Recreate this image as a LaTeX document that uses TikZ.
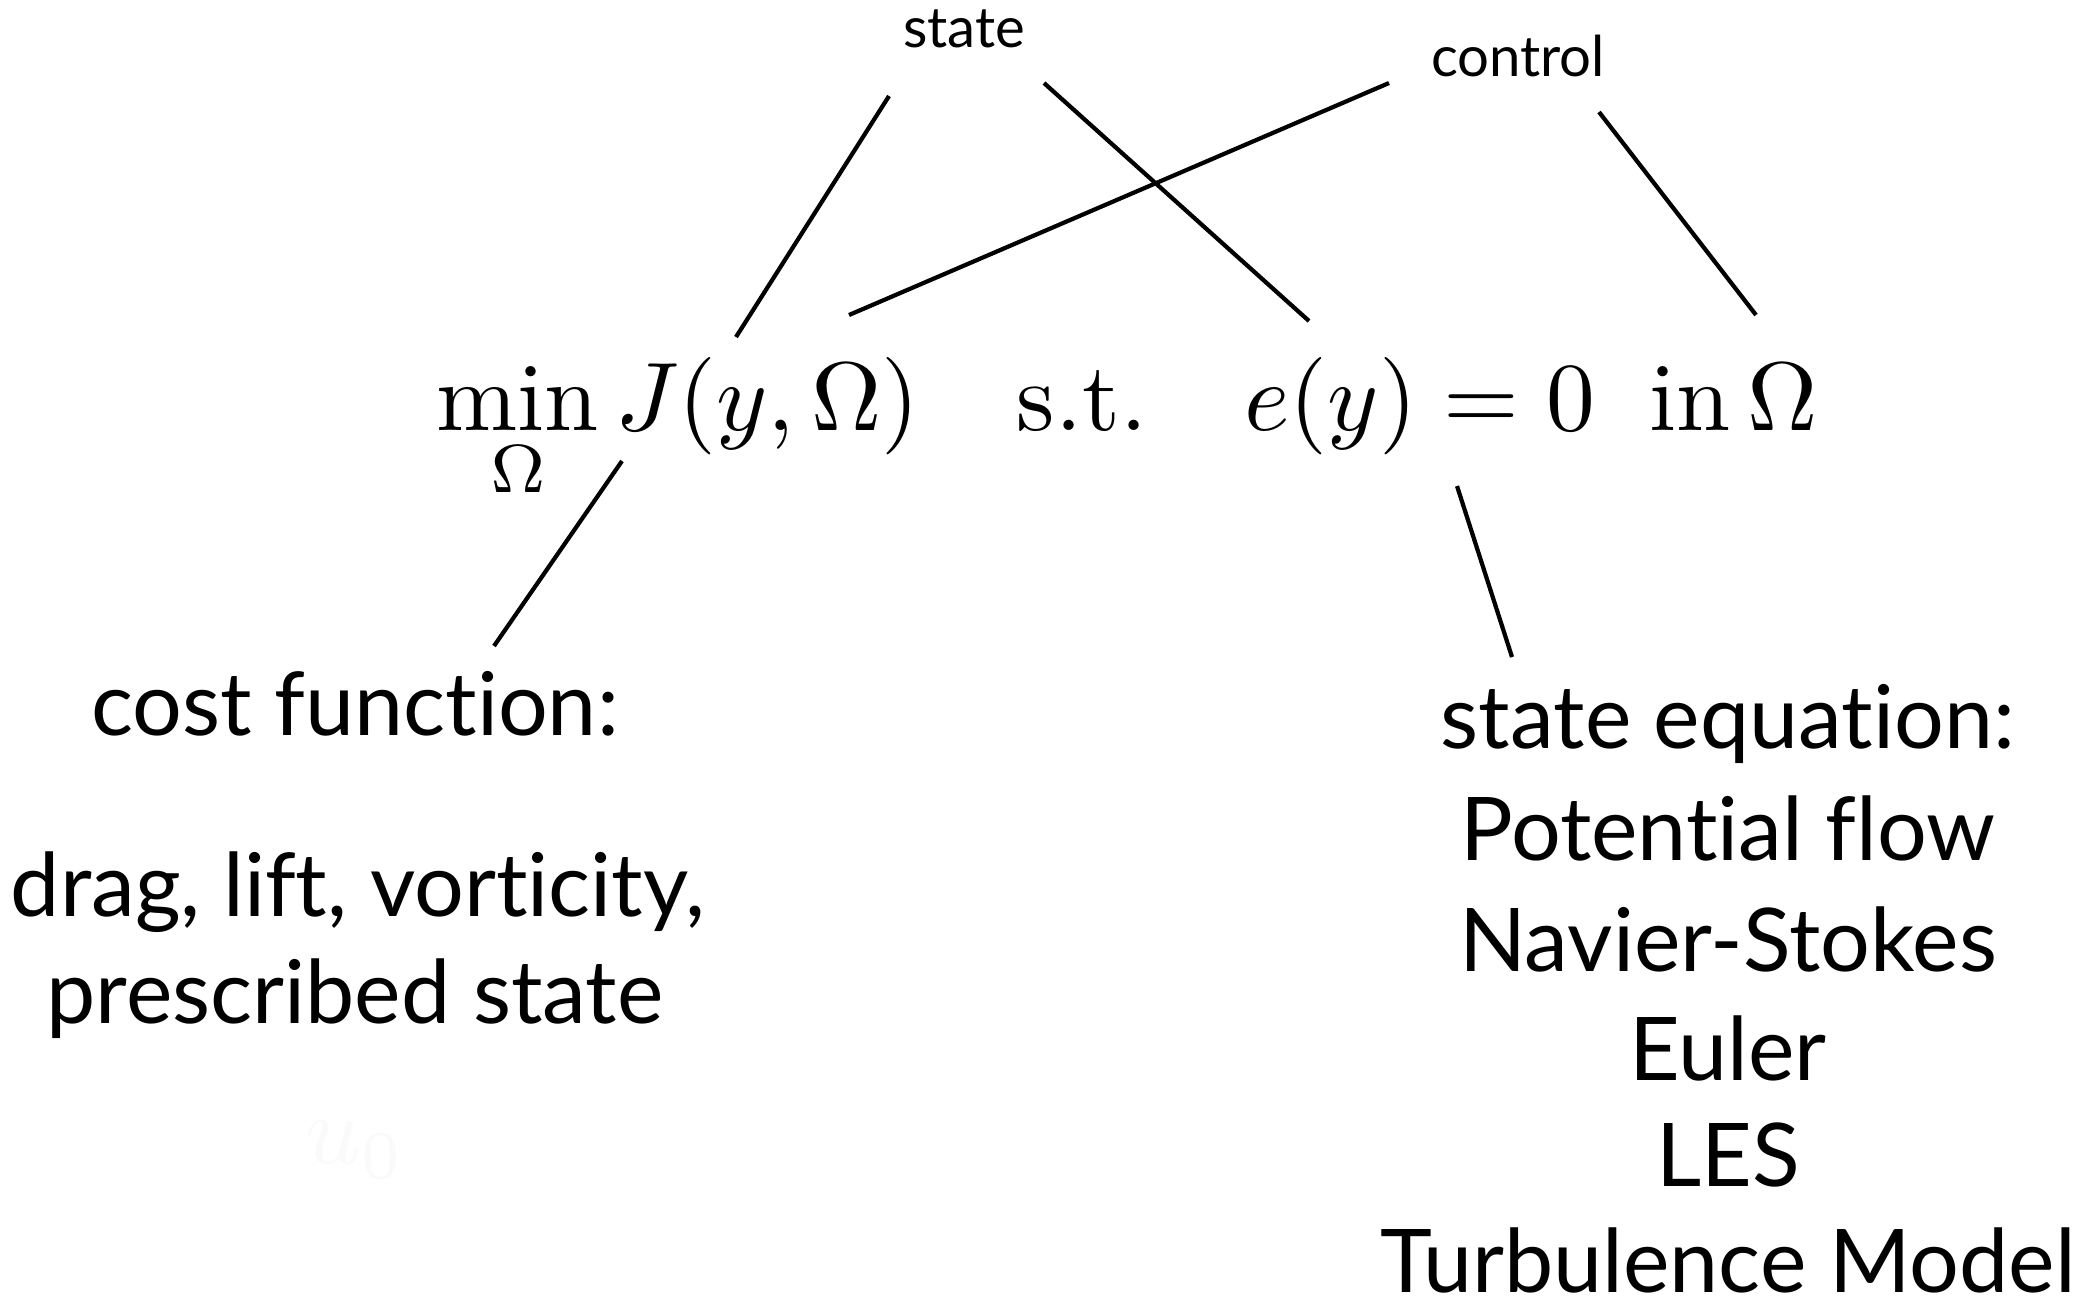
\documentclass[tikz,border=0pt]{standalone}
\usepackage{amsmath}
\usepackage{graphicx}
\usepackage{fontspec}
\newfontfamily\lblfont[Ligatures={NoCommon,NoRequired,NoContextual}]{Lato}
\begin{document}
\begin{tikzpicture}[x=0.01cm,y=-0.01cm,
  conn/.style={line width=1.2pt,line cap=butt},
  small/.style={font=\fontsize{16}{19}\selectfont\lblfont,inner sep=0pt},
  big/.style={font=\fontsize{25}{30}\selectfont\lblfont,inner sep=0pt},
  formula/.style={font=\fontsize{10}{12}\selectfont,inner sep=0pt}]
\useasboundingbox (0,0) rectangle (2094,1302);
\fill[white] (0,0) rectangle (2094,1302);
% labels
\node[small] (state) at (964,29) {state};
\node[small] (control) at (1518,56) {control};
\node[formula,anchor=base west] (eq) at (436,430)
  {\scalebox{2.77}{$\displaystyle \min_{\Omega} J(y,\Omega)\quad \text{s.t.}\quad e(y)=0\;\;\text{in}\,\Omega$}};
\node[big] (cost) at (355,704) {cost function:};
\node[big] (drag) at (358,892) {drag, lift, vorticity,};
\node[big] (presc) at (355,999) {prescribed state};
\node[formula,text=black!2] (u0) at (355,1150) {\scalebox{2.77}{$u_0$}};
\node[big] (steq) at (1728,724) {state equation:};
\node[big] (pot) at (1728,828) {Potential flow};
\node[big] (ns) at (1728,939) {Navier-Stokes};
\node[big] (euler) at (1728,1048) {Euler};
\node[big] (les) at (1728,1155) {LES};
\node[big] (turb) at (1728,1260) {Turbulence Model};
% connector ends
\coordinate (sA) at (889,96);   \coordinate (sAe) at (736,337);
\coordinate (sB) at (1044,83);  \coordinate (sBe) at (1309,321);
\coordinate (cA) at (1389,83);  \coordinate (cAe) at (849,315);
\coordinate (cB) at (1599,112); \coordinate (cBe) at (1756,315);
\coordinate (jA) at (622,461);  \coordinate (jAe) at (494,646);
\coordinate (eA) at (1457,486); \coordinate (eAe) at (1512,657);
\draw[conn] (sA) -- (sAe);
\draw[conn] (sB) -- (sBe);
\draw[conn] (cA) -- (cAe);
\draw[conn] (cB) -- (cBe);
\draw[conn] (jA) -- (jAe);
\draw[conn] (eA) -- (eAe);
\end{tikzpicture}
\end{document}
